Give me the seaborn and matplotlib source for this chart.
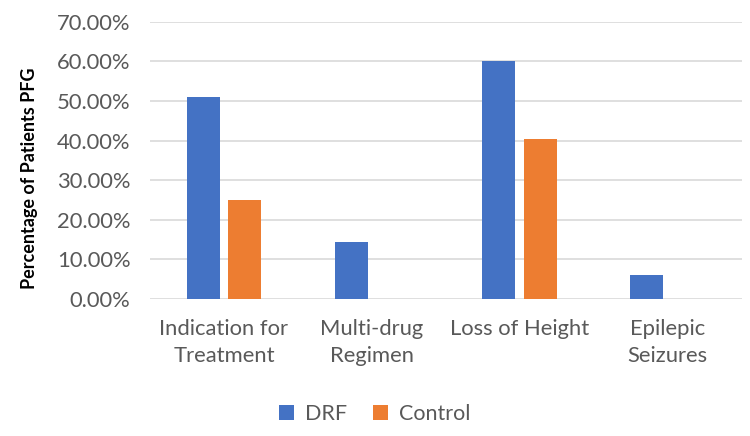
import pandas as pd
import seaborn as sns
import matplotlib.pyplot as plt
from matplotlib.ticker import PercentFormatter

categories = ['Indication for\nTreatment', 'Multi-drug\nRegimen', 'Loss of Height', 'Epilepic\nSeizures']
drf = [0.509, 0.144, 0.601, 0.060]
control = [0.250, 0.0, 0.405, 0.0]
groups = ['DRF', 'Control']

df = pd.DataFrame({
    'category': categories * 2,
    'value': drf + control,
    'group': ['DRF'] * 4 + ['Control'] * 4,
})

sns.set_theme(style='white')
plt.rcParams['font.family'] = ['Lato', 'DejaVu Sans']

fig, ax = plt.subplots(figsize=(7.5, 4.36), dpi=100)
fig.subplots_adjust(left=0.2, right=0.989, bottom=0.314, top=0.95)

sns.barplot(data=df, x='category', y='value', hue='group', hue_order=groups,
            palette=['#4472C4', '#ED7D31'], width=0.565, gap=0.21,
            linewidth=0, saturation=1, ax=ax)

ax.set_ylim(0, 0.7)
ax.set_yticks([i / 10 for i in range(8)])
ax.yaxis.set_major_formatter(PercentFormatter(1.0, decimals=2))
ax.yaxis.grid(True, color='#d9d9d9', linewidth=1.2)
ax.set_axisbelow(True)
for s in ax.spines.values():
    s.set_visible(False)
ax.tick_params(axis='both', length=0, labelsize=15.8, labelcolor='#595959')
ax.tick_params(axis='x', pad=14)
ax.tick_params(axis='y', pad=14)
for lbl in ax.get_xticklabels():
    lbl.set_linespacing(1.45)
ax.set_xlabel('')
ax.set_ylabel('Percentage of Patients PFG', fontsize=13, fontweight='bold', color='black')
ax.yaxis.set_label_coords(-0.19, 0.437)

ax.legend(loc='upper center', bbox_to_anchor=(0.38, -0.31), ncol=2, frameon=False,
          fontsize=15.5, labelcolor='#595959', handlelength=0.7, handleheight=0.7,
          columnspacing=1.2, handletextpad=0.5)

plt.savefig('out.png', dpi=100)
